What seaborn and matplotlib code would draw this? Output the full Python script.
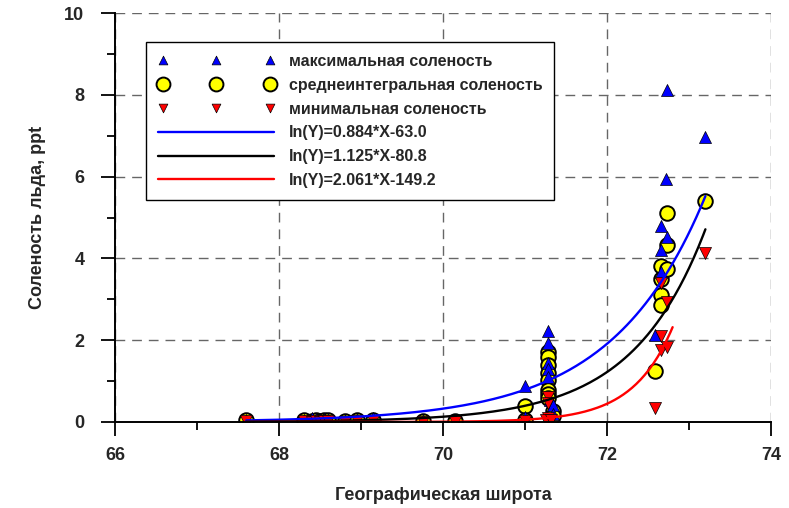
import numpy as np
import matplotlib
matplotlib.use("Agg")
import matplotlib.pyplot as plt
import seaborn as sns

# maximum salinity (blue up triangles)
lat_max = [67.6, 68.3, 68.4, 68.45, 68.5, 68.55, 68.6, 68.8, 68.95, 69.15, 69.75, 70.15,
           71.0, 71.0, 71.28, 71.28, 71.28, 71.28, 71.28, 71.3, 71.34, 71.34,
           72.59, 72.66, 72.66, 72.66, 72.72, 72.73, 72.73, 73.2]
sal_max = [0.06, 0.05, 0.1, 0.07, 0.04, 0.08, 0.07, 0.05, 0.08, 0.1, 0.05, 0.04,
           0.88, 0.12, 2.22, 1.93, 1.45, 1.3, 1.1, 0.54, 0.42, 0.2,
           2.13, 4.79, 4.2, 3.67, 5.94, 8.12, 4.52, 6.97]

# depth-integrated mean salinity (yellow circles)
lat_mean = [67.6, 68.3, 68.4, 68.45, 68.5, 68.55, 68.6, 68.8, 68.95, 69.15, 69.75, 70.15,
            71.0, 71.0, 71.28, 71.28, 71.28, 71.28, 71.28, 71.28, 71.28, 71.28, 71.34, 71.34,
            72.59, 72.66, 72.66, 72.66, 72.66, 72.73, 72.73, 72.73, 73.2]
sal_mean = [0.05, 0.04, 0.03, 0.05, 0.03, 0.05, 0.04, 0.03, 0.05, 0.05, 0.03, 0.02,
            0.4, 0.06, 1.7, 1.6, 1.4, 1.2, 1.03, 0.78, 0.68, 0.59, 0.27, 0.14,
            1.25, 3.81, 3.5, 3.1, 2.86, 5.11, 4.33, 3.74, 5.4]

# minimum salinity (red down triangles)
lat_min = [67.6, 68.3, 68.4, 68.45, 68.5, 68.55, 68.6, 68.8, 68.95, 69.15, 69.75, 70.15,
           71.0, 71.28, 71.28, 71.28, 71.26, 71.32,
           72.59, 72.66, 72.66, 72.66, 72.73, 72.73, 73.2]
sal_min = [0.03, 0.02, 0.01, 0.02, 0.01, 0.03, 0.02, 0.01, 0.03, 0.03, 0.01, 0.01,
           0.03, 0.62, 0.47, 0.1, 0.05, 0.05,
           0.34, 3.4, 2.1, 1.76, 2.93, 1.83, 4.13]

# exponential fits, ln(Y) = a*X + b, and the latitude span each was drawn over
fit_labels = ["ln(Y)=0.884*X-63.0", "ln(Y)=1.125*X-80.8", "ln(Y)=2.061*X-149.2"]
fit_a = [0.884, 1.125, 2.061]
fit_b = [-63.0, -80.8, -149.2]
fit_x0 = [67.6, 67.6, 67.6]
fit_x1 = [73.2, 73.2, 72.8]
fit_colors = ["#0000ff", "#000000", "#ff0000"]

sns.set_style("white")
plt.rcParams["font.family"] = ["Liberation Sans", "DejaVu Sans"]
plt.rcParams["font.weight"] = "bold"

fig = plt.figure(figsize=(7.89, 5.08), dpi=100)
ax = fig.add_axes([0.1458, 0.1693, 0.8314, 0.8051])

sns.scatterplot(x=lat_mean, y=sal_mean, ax=ax, marker="o", s=110, color="#ffff00",
                edgecolor="black", linewidth=1.4, label="среднеинтегральная соленость", zorder=3)
sns.scatterplot(x=lat_max, y=sal_max, ax=ax, marker="^", s=75, color="#0000ff",
                edgecolor="black", linewidth=0.5, label="максимальная соленость", zorder=4)
sns.scatterplot(x=lat_min, y=sal_min, ax=ax, marker="v", s=75, color="#ff0000",
                edgecolor="black", linewidth=0.5, label="минимальная соленость", zorder=4)

for a, b, x0, x1, c, lab in zip(fit_a, fit_b, fit_x0, fit_x1, fit_colors, fit_labels):
    xs = np.linspace(x0, x1, 200)
    ax.plot(xs, np.exp(a * xs + b), color=c, lw=1.7, label=lab, zorder=5)

ax.set_xlim(66, 74)
ax.set_ylim(0, 10)
ax.set_xticks([66, 68, 70, 72, 74])
ax.set_xticks([67, 69, 71, 73], minor=True)
ax.set_yticks([0, 2, 4, 6, 8, 10])
ax.set_yticks([1, 3, 5, 7, 9], minor=True)
ax.grid(True, which="major", color="#666666", linestyle=(0, (7, 5)), lw=1.0)
ax.set_axisbelow(True)

for s in ["top", "right"]:
    ax.spines[s].set_visible(False)
for s in ["left", "bottom"]:
    ax.spines[s].set_color("black")
    ax.spines[s].set_linewidth(1.4)
ax.spines["bottom"].set_zorder(6)

ax.tick_params(axis="both", which="both", bottom=True, left=True, top=False, right=False)
ax.tick_params(axis="both", which="major", direction="out", length=10, width=1.3,
               labelsize=13, color="black")
ax.tick_params(axis="both", which="minor", direction="out", length=6, width=1.3, color="black")
ax.tick_params(axis="y", which="major", pad=12)
ax.tick_params(axis="x", which="major", pad=8)
for t in ax.get_xticklabels() + ax.get_yticklabels():
    t.set_fontweight("bold")

ax.set_xlabel("Географическая широта", fontsize=13, fontweight="bold")
ax.set_ylabel("Соленость льда, ppt", fontsize=13, fontweight="bold")
ax.xaxis.set_label_coords(0.5, -0.158)
ax.yaxis.set_label_coords(-0.105, 0.5)

h, l = ax.get_legend_handles_labels()
order = [1, 0, 2, 3, 4, 5]
leg = ax.legend([h[i] for i in order], [l[i] for i in order], loc="upper left",
                bbox_to_anchor=(0.047, 0.929), borderaxespad=0, scatterpoints=3,
                scatteryoffsets=[0.5], fancybox=False, frameon=True, edgecolor="black",
                framealpha=1, handlelength=7.3, handletextpad=0.9, labelspacing=0.55,
                borderpad=0.75, prop={"weight": "bold", "size": 11.5})
leg.get_frame().set_linewidth(1.0)
leg.set_zorder(10)
hs = leg.legend_handles
hs[0].set_sizes([40])
hs[1].set_sizes([100])
hs[2].set_sizes([40])

fig.savefig("out.png", dpi=100)
